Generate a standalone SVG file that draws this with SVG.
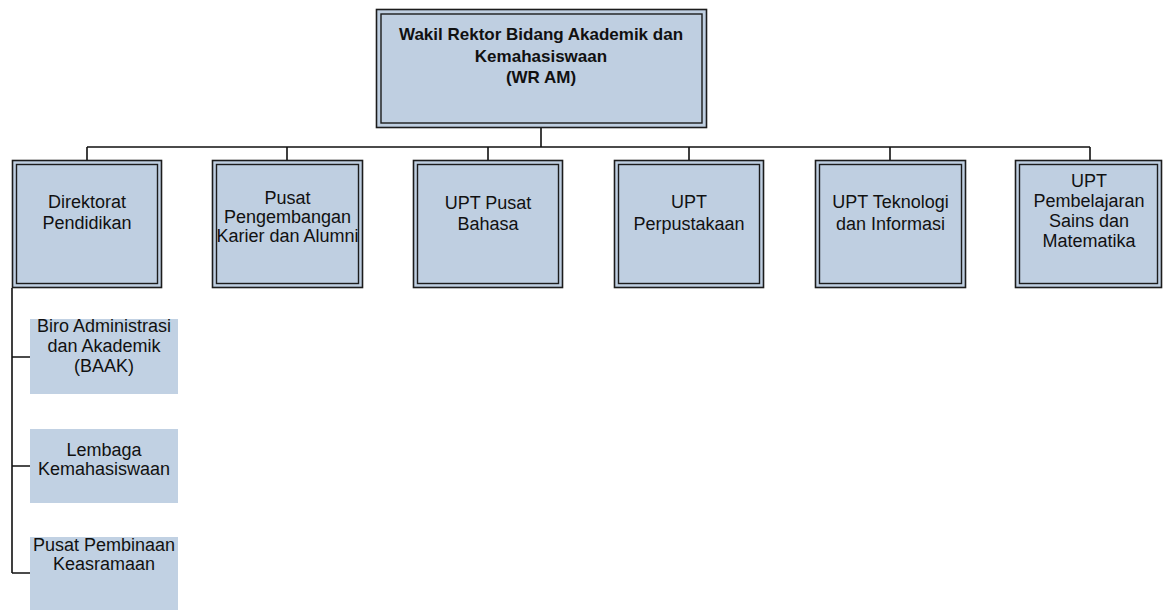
<svg xmlns="http://www.w3.org/2000/svg" width="1164" height="610" viewBox="0 0 1164 610">
<style>
.o{fill:#bfcfe1;stroke:#1c1c1c;stroke-width:1.6}
.i{fill:none;stroke:#1c1c1c;stroke-width:1.4}
.s{fill:#c1d1e3}
.t{font-family:"Liberation Sans",Arial,sans-serif;font-size:18px;fill:#111;text-anchor:middle}
.b{font-family:"Liberation Sans",Arial,sans-serif;font-size:17px;font-weight:bold;fill:#111;text-anchor:middle}
.c{fill:none;stroke:#111;stroke-width:1.6}
</style>
<rect width="1164" height="610" fill="#fff"/>
<g id="connectors">
<path class="c" d="M541 128V147M87 147H1090M87 147V161M287 147V161M488 147V161M689 147V161M890 147V161M1090 147V161"/>
<path class="c" d="M12 288V573M12 357H30M12 466H30M12 573H30"/>
</g>
<g id="wr-am">
<rect class="o" x="376.5" y="9.5" width="330" height="118"/>
<rect class="i" x="381" y="14" width="321" height="109"/>
<text class="b" x="541" y="40">Wakil Rektor Bidang Akademik dan</text>
<text class="b" x="541" y="62">Kemahasiswaan</text>
<text class="b" x="541" y="83">(WR AM)</text>
</g>
<g id="direktorat">
<rect class="o" x="12.5" y="160.5" width="149" height="127"/>
<rect class="i" x="16.5" y="164.5" width="141" height="119"/>
<text class="t" x="87" y="208">Direktorat</text>
<text class="t" x="87" y="229">Pendidikan</text>
</g>
<g id="pusat-karier">
<rect class="o" x="212.5" y="160.5" width="150" height="127"/>
<rect class="i" x="216.5" y="164.5" width="142" height="119"/>
<text class="t" x="287.5" y="204">Pusat</text>
<text class="t" x="287.5" y="223">Pengembangan</text>
<text class="t" x="287.5" y="242">Karier dan Alumni</text>
</g>
<g id="upt-bahasa">
<rect class="o" x="413.5" y="160.5" width="149" height="127"/>
<rect class="i" x="417.5" y="164.5" width="141" height="119"/>
<text class="t" x="488" y="209">UPT Pusat</text>
<text class="t" x="488" y="230">Bahasa</text>
</g>
<g id="upt-perpustakaan">
<rect class="o" x="614.5" y="160.5" width="149" height="127"/>
<rect class="i" x="618.5" y="164.5" width="141" height="119"/>
<text class="t" x="689" y="208">UPT</text>
<text class="t" x="689" y="230">Perpustakaan</text>
</g>
<g id="upt-teknologi">
<rect class="o" x="815.5" y="160.5" width="150" height="127"/>
<rect class="i" x="819.5" y="164.5" width="142" height="119"/>
<text class="t" x="890.5" y="208">UPT Teknologi</text>
<text class="t" x="890.5" y="230">dan Informasi</text>
</g>
<g id="upt-pembelajaran">
<rect class="o" x="1015.5" y="160.5" width="146" height="127"/>
<rect class="i" x="1019.5" y="164.5" width="138" height="119"/>
<text class="t" x="1089" y="187">UPT</text>
<text class="t" x="1089" y="207">Pembelajaran</text>
<text class="t" x="1089" y="227">Sains dan</text>
<text class="t" x="1089" y="247">Matematika</text>
</g>
<g id="baak">
<rect class="s" x="30" y="319" width="148" height="75"/>
<text class="t" x="104" y="332">Biro Administrasi</text>
<text class="t" x="104" y="352">dan Akademik</text>
<text class="t" x="104" y="372">(BAAK)</text>
</g>
<g id="lembaga">
<rect class="s" x="30" y="429" width="148" height="74"/>
<text class="t" x="104" y="456">Lembaga</text>
<text class="t" x="104" y="475">Kemahasiswaan</text>
</g>
<g id="pusat-pembinaan">
<rect class="s" x="30" y="537" width="148" height="73"/>
<text class="t" x="104" y="551">Pusat Pembinaan</text>
<text class="t" x="104" y="570">Keasramaan</text>
</g>
</svg>
